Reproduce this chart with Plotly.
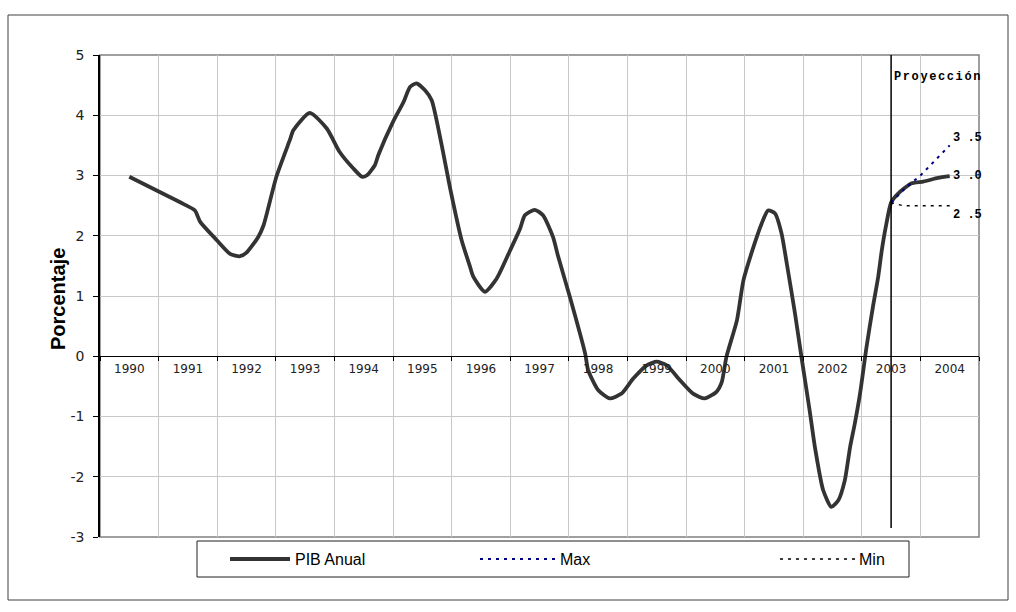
import plotly.graph_objects as go

# ---------------- data ----------------
years = [1990, 1991, 1992, 1993, 1994, 1995, 1996, 1997, 1998, 1999,
         2000, 2001, 2002, 2003, 2004]
year_labels = [str(y) for y in years]
y_ticks = [-3, -2, -1, 0, 1, 2, 3, 4, 5]
y_tick_labels = ["-3", "-2", "-1", "0", "1", "2", "3", "4", "5"]

pib_x = [1990.00, 1990.51, 1990.92, 1991.12, 1991.21, 1991.49, 1991.72, 1991.89,
         1992.00, 1992.20, 1992.29, 1992.51, 1992.74, 1992.80, 1993.08, 1993.37,
         1993.59, 1993.82, 1993.97, 1994.05, 1994.19, 1994.25, 1994.50, 1994.68,
         1994.79, 1994.90, 1995.05, 1995.16, 1995.36, 1995.47, 1995.67, 1995.81,
         1995.87, 1996.07, 1996.27, 1996.50, 1996.67, 1996.75, 1996.92, 1997.06,
         1997.23, 1997.32, 1997.52, 1997.78, 1997.83, 1998.00, 1998.20, 1998.40,
         1998.60, 1998.83, 1999.00, 1999.17, 1999.40, 1999.62, 1999.82, 2000.02,
         2000.11, 2000.19, 2000.37, 2000.48, 2000.65, 2000.79, 2000.90, 2001.02,
         2001.13, 2001.22, 2001.36, 2001.47, 2001.61, 2001.70, 2001.84, 2001.98,
         2002.10, 2002.21, 2002.30, 2002.38, 2002.47, 2002.58, 2002.69, 2002.78,
         2002.84, 2002.91, 2003.00, 2003.12, 2003.35, 2003.55, 2003.80, 2004.00]
pib_y = [2.98, 2.73, 2.53, 2.42, 2.23, 1.93, 1.70, 1.66,
         1.72, 1.98, 2.17, 2.98, 3.59, 3.75, 4.04, 3.78,
         3.39, 3.12, 2.98, 3.00, 3.17, 3.34, 3.89, 4.22,
         4.47, 4.53, 4.41, 4.25, 3.36, 2.81, 1.93, 1.50,
         1.32, 1.07, 1.29, 1.76, 2.12, 2.34, 2.43, 2.34,
         1.98, 1.65, 0.98, 0.04, -0.23, -0.56, -0.70, -0.62,
         -0.37, -0.15, -0.09, -0.15, -0.40, -0.62, -0.70, -0.59,
         -0.43, -0.01, 0.60, 1.26, 1.81, 2.20, 2.42, 2.37,
         2.04, 1.54, 0.71, -0.01, -0.90, -1.51, -2.22, -2.50,
         -2.39, -2.06, -1.51, -1.12, -0.62, 0.15, 0.82, 1.32,
         1.75, 2.15, 2.55, 2.70, 2.87, 2.90, 2.96, 2.99]

max_x = [2003.00, 2003.25, 2003.50, 2003.75, 2004.00]
max_y = [2.55, 2.80, 3.00, 3.25, 3.50]
min_x = [2003.00, 2003.20, 2003.50, 2003.80, 2004.00]
min_y = [2.55, 2.50, 2.50, 2.50, 2.50]

end_labels = ["3 .5", "3 .0", "2 .5"]
end_label_y = [3.62, 3.0, 2.35]
projection_year = 2003
projection_bottom = -2.85
series_names = ["PIB Anual", "Max", "Min"]

# ---------------- layout helpers ----------------
W, H = 1016, 612
L, R, T, B = 100, 979, 55, 537


def px(x):
    return (x - L) / (R - L)


def py(y):
    return (B - y) / (B - T)


fig = go.Figure()
fig.add_trace(go.Scatter(x=pib_x, y=pib_y, mode="lines", name=series_names[0],
                         line=dict(color="#333333", width=3.8, shape="spline", smoothing=0.6),
                         showlegend=False, hoverinfo="skip"))
fig.add_trace(go.Scatter(x=max_x, y=max_y, mode="lines", name=series_names[1],
                         line=dict(color="#000080", width=2, dash="3px,5px"),
                         showlegend=False))
fig.add_trace(go.Scatter(x=min_x, y=min_y, mode="lines", name=series_names[2],
                         line=dict(color="#000000", width=1.5, dash="3px,5px"),
                         showlegend=False))
# year labels on a second axis at y=0
fig.add_trace(go.Scatter(x=[years[0]], y=[0], xaxis="x2", mode="markers",
                         marker=dict(opacity=0), showlegend=False, hoverinfo="skip"))

shapes = []
# projection line
shapes.append(dict(type="line", xref="x", yref="y", x0=projection_year, x1=projection_year,
                   y0=5, y1=projection_bottom, line=dict(color="black", width=1.5)))
# plot area border
shapes.append(dict(type="rect", xref="paper", yref="paper", x0=0, x1=1, y0=0, y1=1,
                   line=dict(color="#808080", width=1.5), layer="below"))
# outer chart border
shapes.append(dict(type="rect", xref="paper", yref="paper",
                   x0=px(8), x1=px(1008), y0=py(600), y1=py(15),
                   line=dict(color="#404040", width=1)))
# legend box
lb_x0, lb_x1, lb_y0, lb_y1 = 197, 909, 541, 577
shapes.append(dict(type="rect", xref="paper", yref="paper",
                   x0=px(lb_x0), x1=px(lb_x1), y0=py(lb_y1), y1=py(lb_y0),
                   line=dict(color="#202020", width=1)))
ly = (lb_y0 + lb_y1) / 2
leg_samples = [(230, 290, dict(color="#333333", width=3.8)),
               (480, 555, dict(color="#000080", width=2, dash="3px,5px")),
               (780, 855, dict(color="#000000", width=1.5, dash="3px,5px"))]
leg_text_x = [293, 558, 857]
for (a, b, ln) in leg_samples:
    shapes.append(dict(type="line", xref="paper", yref="paper",
                       x0=px(a), x1=px(b), y0=py(ly), y1=py(ly), line=ln))

annotations = []
for name, tx in zip(series_names, leg_text_x):
    annotations.append(dict(xref="paper", yref="paper", x=px(tx), y=py(ly),
                            text=name, showarrow=False, xanchor="left", yanchor="middle",
                            font=dict(family="Liberation Sans", size=16, color="black")))
for lab, yv in zip(end_labels, end_label_y):
    annotations.append(dict(xref="paper", yref="y", x=px(951), y=yv, text="<b>" + lab + "</b>",
                            showarrow=False, xanchor="left", yanchor="middle",
                            font=dict(family="Liberation Mono", size=12, color="black")))
annotations.append(dict(xref="paper", yref="paper", x=px(892), y=py(77),
                        text='<span style="letter-spacing:1.6px"><b>Proyección</b></span>',
                        showarrow=False, xanchor="left", yanchor="middle",
                        font=dict(family="Liberation Mono", size=12, color="black")))
annotations.append(dict(xref="paper", yref="paper", x=px(58), y=py(299), text="<b>Porcentaje</b>",
                        textangle=-90, showarrow=False, xanchor="center", yanchor="middle",
                        font=dict(family="Liberation Sans", size=20, color="black")))

fig.update_layout(
    width=W, height=H,
    margin=dict(l=L, r=W - R, t=T, b=H - B, pad=0),
    paper_bgcolor="white", plot_bgcolor="white",
    showlegend=False,
    xaxis=dict(range=[1989.5, 2004.5], tickmode="linear", tick0=1989.5, dtick=1,
               showgrid=True, gridcolor="#c8c8c8", gridwidth=1,
               showticklabels=False, ticks="outside", ticklen=4, tickcolor="black",
               showline=True, linecolor="black", linewidth=1.2,
               anchor="free", position=0.375, zeroline=False),
    xaxis2=dict(range=[1989.5, 2004.5], overlaying="x", anchor="free", position=0.375,
                side="bottom", tickmode="array", tickvals=years, ticktext=year_labels,
                showgrid=False, showline=False, zeroline=False,
                ticks="outside", ticklen=1, tickcolor="rgba(0,0,0,0)",
                tickfont=dict(family="DejaVu Sans", size=12, color="#222222")),
    yaxis=dict(range=[-3, 5], tickmode="array", tickvals=y_ticks, ticktext=y_tick_labels,
               showgrid=True, gridcolor="#c8c8c8", gridwidth=1,
               showline=True, linecolor="black", linewidth=1.5,
               ticks="outside", ticklen=5, tickcolor="black", zeroline=False,
               ticklabelstandoff=6,
               tickfont=dict(family="DejaVu Sans", size=14, color="#222222")),
    shapes=shapes, annotations=annotations,
)

fig.write_html("out.html")
